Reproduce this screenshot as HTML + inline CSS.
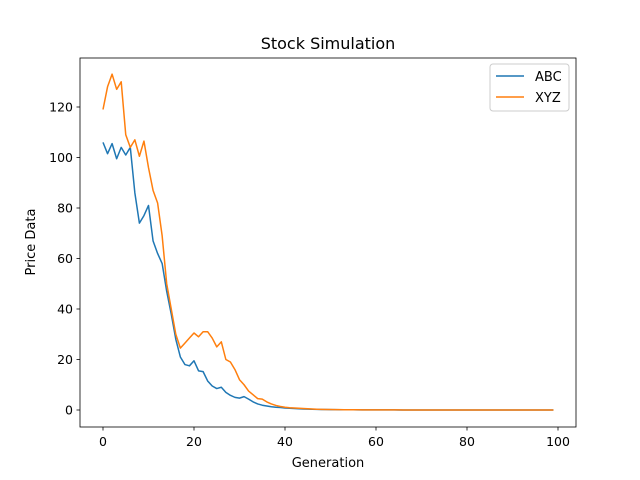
<!DOCTYPE html>
<html><head><meta charset="utf-8"><style>
body{margin:0;background:#fff;}
svg{display:block;font-family:"DejaVu Sans","Liberation Sans",sans-serif;}
</style></head><body>
<svg id="chart" width="640" height="480">
<rect width="640" height="480" fill="#fff"/>
<text x="328" y="49" font-size="16" text-anchor="middle">Stock Simulation</text>
<g id="plot"></g>
<rect x="80" y="58" width="496" height="369" fill="none" stroke="#000" stroke-width="0.8"/>
<text x="328" y="467" font-size="13" text-anchor="middle">Generation</text>
<text transform="translate(35,242) rotate(-90)" font-size="13" text-anchor="middle">Price Data</text>
<g>
<rect x="490" y="64" width="79" height="47" fill="#fff" stroke="#ccc" rx="3"/>
<line x1="496" y1="76" x2="524" y2="76" stroke="#1f77b4" stroke-width="1.5"/>
<text x="535" y="81" font-size="13">ABC</text>
<line x1="496" y1="97" x2="524" y2="97" stroke="#ff7f0e" stroke-width="1.5"/>
<text x="535" y="102" font-size="13">XYZ</text>
</g>
</svg>
<script>
const abc=[106,101.5,105.5,99.5,104,101,104,86,74,77,81,67,62,58,47,38,28,21,18,17.5,19.5,15.5,15.2,11.5,9.5,8.5,9,7,5.8,5,4.7,5.3,4.3,3.2,2.4,1.9,1.6,1.3,1.1,1.0,0.8,0.7,0.6,0.5,0.4,0.35,0.3,0.25,0.2,0.18,0.15,0.13,0.11,0.1,0.09,0.08,0.07,0.06,0.05,0.05,0.04,0.04,0.03,0.03,0.03,0.02,0.02,0.02,0.02,0.01,0.01,0.01,0.01,0.01,0.01,0.01,0,0,0,0,0,0,0,0,0,0,0,0,0,0,0,0,0,0,0,0,0,0,0,0];
const xyz=[119,128,133,127,130,109,104,107,100.5,106.5,96,87,82,69,50,40,30,24.5,26.5,28.5,30.5,29,31,31,28.5,25,27,20,19,16,12,10,7.5,6,4.5,4.3,3.2,2.4,1.8,1.4,1.1,0.9,0.8,0.7,0.6,0.5,0.4,0.3,0.25,0.2,0.18,0.15,0.13,0.11,0.1,0.09,0.08,0.07,0.06,0.05,0.05,0.04,0.04,0.03,0.03,0.03,0.02,0.02,0.02,0.02,0.01,0.01,0.01,0.01,0.01,0.01,0,0,0,0,0,0,0,0,0,0,0,0,0,0,0,0,0,0,0,0,0,0,0,0];
const xTicks=[0,20,40,60,80,100];
const yTicks=[0,20,40,60,80,100,120];
const NS="http://www.w3.org/2000/svg";
const xs=v=>103+v*4.55;
const ys=v=>410-v*2.525;
const g=document.getElementById('plot');
function mk(t,a){const e=document.createElementNS(NS,t);for(const k in a)e.setAttribute(k,a[k]);g.appendChild(e);return e;}
xTicks.forEach(t=>{
 const l=mk('line',{x1:xs(t),x2:xs(t),y1:427,y2:430.5,stroke:'#000','stroke-width':0.8});
 
 
 const tx=mk('text',{x:xs(t),y:446,'font-size':12.5,'text-anchor':'middle'});
 tx.textContent=t;
 
 
});
yTicks.forEach(t=>{
 const l=mk('line',{x1:76.5,x2:80,y1:ys(t),y2:ys(t),stroke:'#000','stroke-width':0.8});
 
 
 const tx=mk('text',{x:73,y:ys(t)+4.5,'font-size':12.5,'text-anchor':'end'});
 tx.textContent=t;
 
 
});
function line(d,c,n){
 const p=mk('polyline',{points:d.map((v,i)=>xs(i)+','+ys(v)).join(' '),fill:'none',stroke:c,'stroke-width':1.5,'stroke-linejoin':'round'});
 
 
}
line(abc,'#1f77b4','abc-line');
line(xyz,'#ff7f0e','xyz-line');
</script>
</body></html>
